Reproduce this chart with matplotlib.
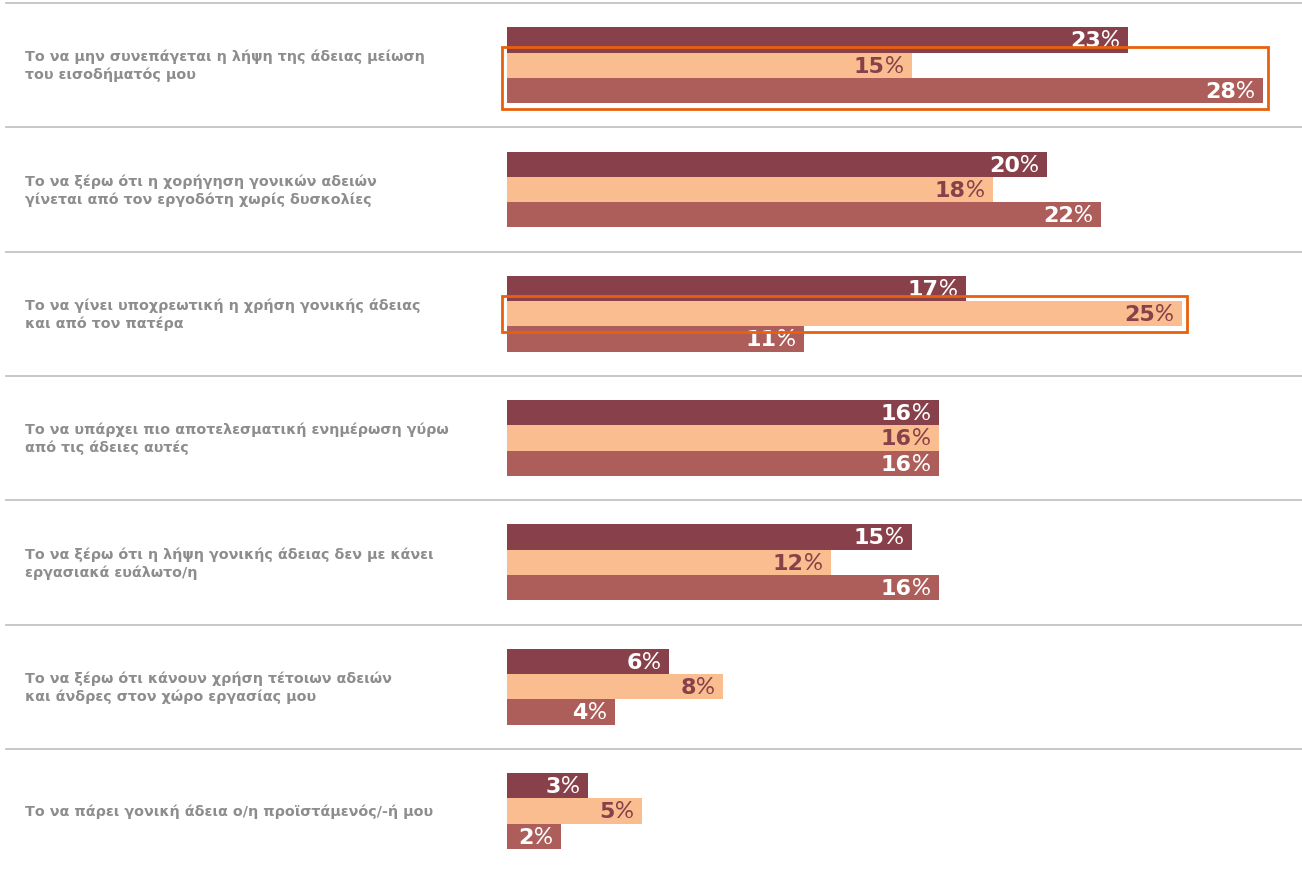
import matplotlib.pyplot as plt
from matplotlib.patches import Rectangle
from matplotlib.transforms import blended_transform_factory

categories = [
    "Το να μην συνεπάγεται η λήψη της άδειας μείωση\nτου εισοδήματός μου",
    "Το να ξέρω ότι η χορήγηση γονικών αδειών\nγίνεται από τον εργοδότη χωρίς δυσκολίες",
    "Το να γίνει υποχρεωτική η χρήση γονικής άδειας\nκαι από τον πατέρα",
    "Το να υπάρχει πιο αποτελεσματική ενημέρωση γύρω\nαπό τις άδειες αυτές",
    "Το να ξέρω ότι η λήψη γονικής άδειας δεν με κάνει\nεργασιακά ευάλωτο/η",
    "Το να ξέρω ότι κάνουν χρήση τέτοιων αδειών\nκαι άνδρες στον χώρο εργασίας μου",
    "Το να πάρει γονική άδεια ο/η προϊστάμενός/-ή μου",
]
series_dark = [23, 20, 17, 16, 15, 6, 3]
series_peach = [15, 18, 25, 16, 12, 8, 5]
series_rose = [28, 22, 11, 16, 16, 4, 2]

# (group, bar indices) that get an orange outline
highlights = [(0, [1, 2]), (2, [1])]

colors = ["#88414a", "#f9bd8f", "#ae5e5a"]
text_colors = ["white", "#88414a", "white"]

W, H, DPI = 1302, 870, 100
PX_PER_UNIT = 27.0       # pixels per percentage point
X0_PX = 507              # bar origin
SLOT_PX = 124.3
TOP_PX = 4
BAR_H = 25.3 / SLOT_PX

fig = plt.figure(figsize=(W / DPI, H / DPI), dpi=DPI)
ax = fig.add_axes([0, 0, 1, 1])
ax.set_xlim(-X0_PX / PX_PER_UNIT, (W - X0_PX) / PX_PER_UNIT)
top = -0.5 - TOP_PX / SLOT_PX
ax.set_ylim(top + H / SLOT_PX, top)
ax.axis("off")

n = len(categories)
all_series = [series_dark, series_peach, series_rose]
offsets = [-BAR_H, 0, BAR_H]

label_tr = blended_transform_factory(ax.transAxes, ax.transData)

for i in range(n):
    ax.axhline(i - 0.5, xmin=6 / W, xmax=1, color="#c4c4c4", lw=1.3, zorder=1)
    ax.text(25 / W, i, categories[i], transform=label_tr, ha="left", va="center",
            fontsize=10.3, fontweight="bold", color="#8d8d8d", family="DejaVu Sans",
            linespacing=1.3)

    for k, vals in enumerate(all_series):
        v = vals[i]
        y = i + offsets[k]
        ax.barh(y, v, height=BAR_H, left=0, color=colors[k], zorder=2)
        pct = ax.annotate("%", xy=(v, y), xytext=(-6, -4.6), textcoords="offset points",
                          ha="right", va="baseline", fontsize=17, color=text_colors[k],
                          family="Lato", zorder=4)
        ax.annotate(str(v), xy=(0, 0), xycoords=pct, ha="right", va="bottom",
                    fontsize=16, fontweight="heavy", color=text_colors[k],
                    family="DejaVu Sans", zorder=4)

pad_x = 5 / PX_PER_UNIT
pad_y = 5.5 / SLOT_PX
for g, idxs in highlights:
    vmax = max(all_series[k][g] for k in idxs)
    y_top = g + offsets[min(idxs)] - BAR_H / 2 - pad_y
    y_bot = g + offsets[max(idxs)] + BAR_H / 2 + pad_y
    ax.add_patch(Rectangle((-pad_x, y_top), vmax + 2 * pad_x, y_bot - y_top,
                           fill=False, edgecolor="#e8600c", lw=2.0, zorder=5))

fig.savefig("out.png", dpi=DPI)
